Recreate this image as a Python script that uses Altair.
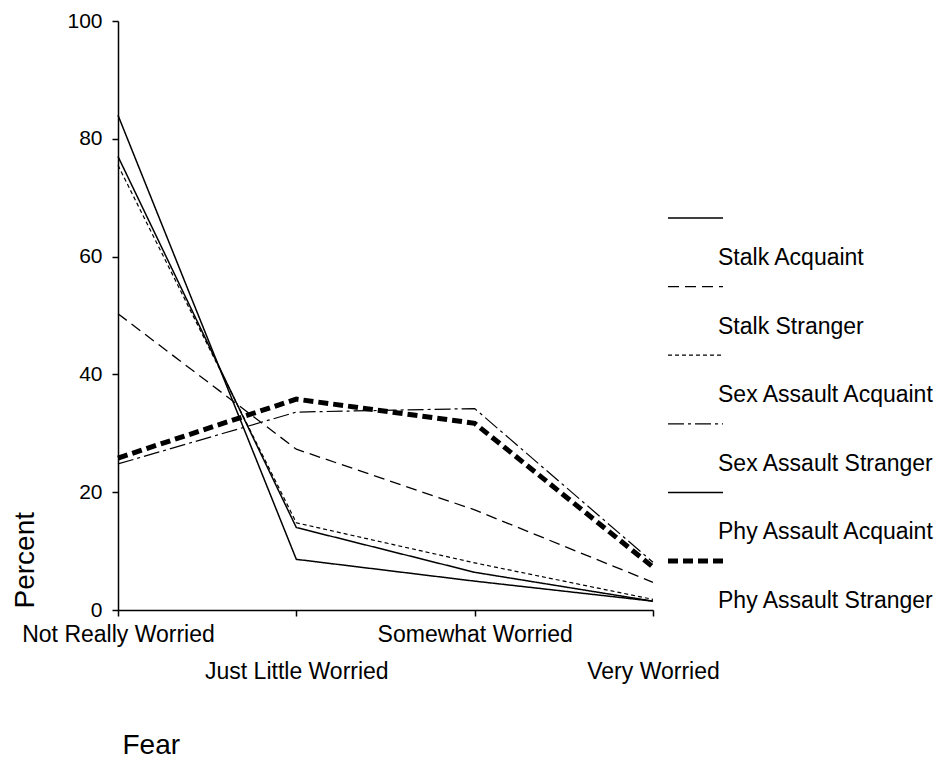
import altair as alt
import pandas as pd

categories = ["Not Really Worried", "Just Little Worried", "Somewhat Worried", "Very Worried"]
series = ["Stalk Acquaint", "Stalk Stranger", "Sex Assault Acquaint",
          "Sex Assault Stranger", "Phy Assault Acquaint", "Phy Assault Stranger"]

stalk_acquaint = [84.0, 8.6, 4.9, 1.5]
stalk_stranger = [50.3, 27.3, 17.0, 4.7]
sex_acquaint = [75.5, 14.8, 8.0, 1.8]
sex_stranger = [24.8, 33.6, 34.2, 8.1]
phy_acquaint = [77.0, 14.0, 6.4, 1.5]
phy_stranger = [25.8, 35.8, 31.7, 7.3]

values = [stalk_acquaint, stalk_stranger, sex_acquaint, sex_stranger, phy_acquaint, phy_stranger]

rows = []
for s, vals in zip(series, values):
    for c, v in zip(categories, vals):
        rows.append({"series": s, "fear": c, "percent": v})
df = pd.DataFrame(rows)
legend_df = pd.DataFrame({"series": series})

dashes = [[1, 0], [11, 6], [4, 3], [16, 4, 3, 4], [1, 0], [10, 5]]
widths = [1.5, 1.3, 1.2, 1.2, 1.5, 5.0]
FONT = "Liberation Sans"

dash_enc = alt.StrokeDash("series:N", scale=alt.Scale(domain=series, range=dashes), legend=None)
width_enc = alt.StrokeWidth("series:N", scale=alt.Scale(type="ordinal", domain=series, range=widths), legend=None)

lines = alt.Chart(df).mark_line(color="black").encode(
    x=alt.X("fear:N", sort=categories,
            scale=alt.Scale(type="point", domain=categories, padding=0),
            axis=alt.Axis(title="Fear", labelAngle=0, labelOverlap=False, labelFlush=False,
                          labelLimit=0,
                          labelExpr="indexof(['Just Little Worried','Very Worried'], datum.value) >= 0 ? ['', datum.label] : datum.label",
                          labelLineHeight=37, labelFontSize=23, labelFont=FONT, labelColor="black",
                          labelBaseline="top", labelPadding=7, tickSize=6, tickColor="black",
                          domainColor="black", domainWidth=1.5, tickWidth=1.5,
                          titleFont=FONT, titleFontSize=28, titleFontWeight="normal", titleColor="black",
                          titleX=4, titleY=143, titleAlign="left", titleBaseline="alphabetic")),
    y=alt.Y("percent:Q", scale=alt.Scale(domain=[0, 100], nice=False),
            axis=alt.Axis(title="Percent", values=[0, 20, 40, 60, 80, 100], grid=False,
                          labelFontSize=21, labelFont=FONT, labelColor="black", labelPadding=10,
                          tickSize=6, tickColor="black", tickWidth=1.5,
                          domainColor="black", domainWidth=1.5,
                          titleFont=FONT, titleFontSize=28, titleFontWeight="normal", titleColor="black",
                          titleX=-85, titleY=587, titleAlign="left", titleAngle=270,
                          titleBaseline="alphabetic")),
    strokeDash=dash_enc,
    strokeWidth=width_enc,
    detail="series:N",
)

leg_y = alt.Y("series:N", sort=series,
              scale=alt.Scale(type="point", domain=series, range=[197, 540], padding=0),
              axis=None)

leg_rules = alt.Chart(legend_df).mark_rule(color="black", strokeCap="butt").encode(
    x=alt.value(550), x2=alt.value(605), y=leg_y,
    strokeDash=dash_enc, strokeWidth=width_enc,
)
leg_text = alt.Chart(legend_df).mark_text(
    align="left", baseline="middle", dy=40, fontSize=23, font=FONT, color="black"
).encode(x=alt.value(600), y=leg_y, text="series:N")

legend = alt.layer(leg_rules, leg_text)

chart = alt.layer(lines, legend).resolve_scale(y="independent").properties(
    width=535, height=589, background="white",
    padding={"left": 3, "top": 2, "right": 0, "bottom": 0},
).configure_view(stroke=None)

chart.save("out.html", embed_options={"renderer": "svg", "actions": False})
